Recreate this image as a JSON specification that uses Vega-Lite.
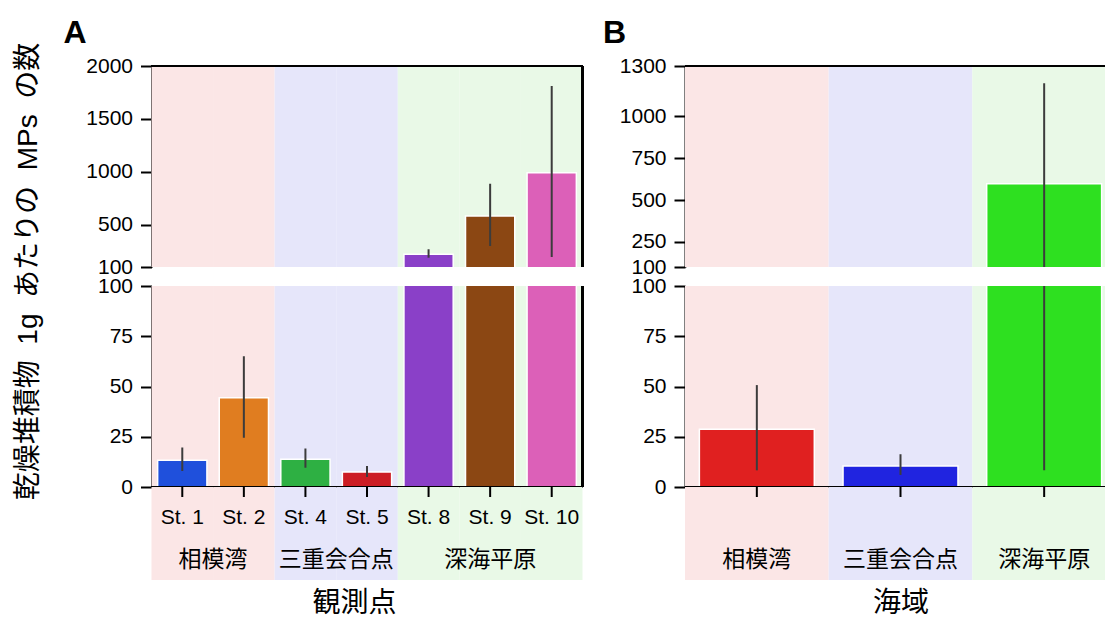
{
  "$schema": "https://vega.github.io/schema/vega-lite/v6.json",
  "padding": {"left": 13.5, "top": 17, "right": 0, "bottom": 0},
  "background": "white",
  "datasets": {
    "stations": [
      {"station": "St. 1", "region": "相模湾", "mean": 13.3, "lo": 8.0, "hi": 19.6},
      {"station": "St. 2", "region": "相模湾", "mean": 44.4, "lo": 24.5, "hi": 65.0},
      {"station": "St. 4", "region": "三重会合点", "mean": 13.8, "lo": 9.6, "hi": 19.2},
      {"station": "St. 5", "region": "三重会合点", "mean": 7.5, "lo": 5.0, "hi": 10.4},
      {"station": "St. 8", "region": "深海平原", "mean": 220, "lo": 188, "hi": 267},
      {"station": "St. 9", "region": "深海平原", "mean": 582, "lo": 298, "hi": 887},
      {"station": "St. 10", "region": "深海平原", "mean": 991, "lo": 194, "hi": 1811}
    ],
    "regions": [
      {"region": "相模湾", "mean": 28.7, "lo": 8.3, "hi": 50.7},
      {"region": "三重会合点", "mean": 10.4, "lo": 6.0, "hi": 16.3},
      {"region": "深海平原", "mean": 597, "lo": 8.3, "hi": 1197}
    ]
  },
  "config": {
    "view": {"stroke": null},
    "axis": {
      "grid": false, "zindex": 1, "format": "d",
      "labelFont": "Liberation Sans", "labelFontSize": 21, "labelColor": "black",
      "domainColor": "black", "domainWidth": 2,
      "tickColor": "black", "tickWidth": 2, "tickSize": 11, "labelPadding": 8,
      "titleFont": "Liberation Sans, Noto Sans CJK JP", "titleFontWeight": "normal", "titleColor": "black", "titleFontSize": 28
    },
    "text": {"color": "black"}
  },
  "spacing": 19.5,
  "resolve": {"scale": {"x": "independent", "y": "independent", "color": "independent", "fill": "independent"}},
  "hconcat": [
    {
      "bounds": "flush",
      "spacing": 19,
      "resolve": {"scale": {"x": "independent", "y": "independent", "color": "independent", "fill": "independent"}},
      "vconcat": [
        {
          "width": 431, "height": 201,
          "data": {"name": "stations"},
          "title": {"text": "A", "anchor": "start", "frame": "group", "dx": -88, "offset": -20, "baseline": "alphabetic", "font": "Liberation Sans", "fontSize": 32, "fontWeight": "bold", "color": "black"},
          "layer": [
            {"mark": {"type": "rect"},
             "encoding": {
               "x": {"field": "station", "type": "nominal", "scale": {"domain": ["St. 1", "St. 2", "St. 4", "St. 5", "St. 8", "St. 9", "St. 10"], "paddingInner": 0, "paddingOuter": 0}, "axis": null},
               "fill": {"field": "region", "type": "nominal", "scale": {"domain": ["相模湾", "三重会合点", "深海平原"], "range": ["#fbe6e6", "#e6e6fa", "#e9f9e7"]}, "legend": null}}},
            {"mark": {"type": "bar", "clip": true, "width": {"band": 0.8}, "stroke": "white", "strokeWidth": 1.5},
             "encoding": {
               "x": {"field": "station", "type": "nominal", "scale": {"domain": ["St. 1", "St. 2", "St. 4", "St. 5", "St. 8", "St. 9", "St. 10"], "paddingInner": 0, "paddingOuter": 0}, "axis": null},
               "y": {"field": "mean", "type": "quantitative", "scale": {"domain": [100, 2000], "nice": false, "zero": false}, "axis": {"values": [100, 500, 1000, 1500, 2000], "title": null}},
               "color": {"field": "station", "type": "nominal", "scale": {"domain": ["St. 1", "St. 2", "St. 4", "St. 5", "St. 8", "St. 9", "St. 10"], "range": ["#1f50dc", "#e07d20", "#2eb043", "#cc1d24", "#8a40c8", "#8b4713", "#dc60b8"]}, "legend": null}}},
            {"mark": {"type": "rule", "clip": true, "color": "#3c3c3c", "strokeWidth": 2},
             "encoding": {
               "x": {"field": "station", "type": "nominal", "scale": {"domain": ["St. 1", "St. 2", "St. 4", "St. 5", "St. 8", "St. 9", "St. 10"], "paddingInner": 0, "paddingOuter": 0}, "axis": null},
               "y": {"field": "lo", "type": "quantitative", "scale": {"domain": [100, 2000], "nice": false, "zero": false}, "axis": {"values": [100, 500, 1000, 1500, 2000], "title": null}},
               "y2": {"field": "hi"}}},
            {"mark": {"type": "rule", "color": "black", "strokeWidth": 2},
             "encoding": {"y": {"datum": 2000, "type": "quantitative", "scale": {"domain": [100, 2000], "nice": false, "zero": false}, "axis": {"values": [100, 500, 1000, 1500, 2000], "title": null}}}},
            {"mark": {"type": "rule", "color": "black", "strokeWidth": 2},
             "encoding": {"x": {"datum": "St. 10", "bandPosition": 1, "type": "nominal", "scale": {"domain": ["St. 1", "St. 2", "St. 4", "St. 5", "St. 8", "St. 9", "St. 10"], "paddingInner": 0, "paddingOuter": 0}, "axis": null}}}
          ]
        },
        {
          "bounds": "flush",
          "spacing": 0,
          "resolve": {"scale": {"x": "independent", "y": "independent", "color": "independent", "fill": "independent"}},
          "vconcat": [
            {
              "width": 431, "height": 201,
              "data": {"name": "stations"},
              "layer": [
                {"mark": {"type": "rect"},
                 "encoding": {
                   "x": {"field": "station", "type": "nominal", "scale": {"domain": ["St. 1", "St. 2", "St. 4", "St. 5", "St. 8", "St. 9", "St. 10"], "paddingInner": 0, "paddingOuter": 0}, "axis": null},
                   "fill": {"field": "region", "type": "nominal", "scale": {"domain": ["相模湾", "三重会合点", "深海平原"], "range": ["#fbe6e6", "#e6e6fa", "#e9f9e7"]}, "legend": null}}},
                {"mark": {"type": "bar", "clip": true, "width": {"band": 0.8}, "stroke": "white", "strokeWidth": 1.5},
                 "encoding": {
                   "x": {"field": "station", "type": "nominal", "scale": {"domain": ["St. 1", "St. 2", "St. 4", "St. 5", "St. 8", "St. 9", "St. 10"], "paddingInner": 0, "paddingOuter": 0}, "axis": null},
                   "y": {"field": "mean", "type": "quantitative", "scale": {"domain": [0, 100], "nice": false}, "axis": {"values": [0, 25, 50, 75, 100], "title": "乾燥堆積物\u00a0\u00a01g\u00a0\u00a0あたりの\u00a0\u00a0MPs\u00a0\u00a0の数", "titleFontSize": 28, "titleX": -123.5, "titleY": -15, "titleAngle": 270, "titleAlign": "center", "titleBaseline": "middle"}},
                   "color": {"field": "station", "type": "nominal", "scale": {"domain": ["St. 1", "St. 2", "St. 4", "St. 5", "St. 8", "St. 9", "St. 10"], "range": ["#1f50dc", "#e07d20", "#2eb043", "#cc1d24", "#8a40c8", "#8b4713", "#dc60b8"]}, "legend": null}}},
                {"mark": {"type": "rule", "clip": true, "color": "#3c3c3c", "strokeWidth": 2},
                 "encoding": {
                   "x": {"field": "station", "type": "nominal", "scale": {"domain": ["St. 1", "St. 2", "St. 4", "St. 5", "St. 8", "St. 9", "St. 10"], "paddingInner": 0, "paddingOuter": 0}, "axis": null},
                   "y": {"field": "lo", "type": "quantitative", "scale": {"domain": [0, 100], "nice": false}, "axis": {"values": [0, 25, 50, 75, 100], "title": "乾燥堆積物\u00a0\u00a01g\u00a0\u00a0あたりの\u00a0\u00a0MPs\u00a0\u00a0の数", "titleFontSize": 28, "titleX": -123.5, "titleY": -15, "titleAngle": 270, "titleAlign": "center", "titleBaseline": "middle"}},
                   "y2": {"field": "hi"}}},
                {"mark": {"type": "rule", "color": "black", "strokeWidth": 2},
                 "encoding": {"y": {"datum": 0, "type": "quantitative", "scale": {"domain": [0, 100], "nice": false}, "axis": {"values": [0, 25, 50, 75, 100], "title": "乾燥堆積物\u00a0\u00a01g\u00a0\u00a0あたりの\u00a0\u00a0MPs\u00a0\u00a0の数", "titleFontSize": 28, "titleX": -123.5, "titleY": -15, "titleAngle": 270, "titleAlign": "center", "titleBaseline": "middle"}}}},
                {"mark": {"type": "rule", "color": "black", "strokeWidth": 2},
                 "encoding": {"x": {"datum": "St. 10", "bandPosition": 1, "type": "nominal", "scale": {"domain": ["St. 1", "St. 2", "St. 4", "St. 5", "St. 8", "St. 9", "St. 10"], "paddingInner": 0, "paddingOuter": 0}, "axis": null}}}
              ]
            },
            {
              "width": 431, "height": 10,
              "data": {"name": "stations"},
              "layer": [
                {"mark": {"type": "rect"},
                 "encoding": {
                   "x": {"field": "station", "type": "nominal", "scale": {"domain": ["St. 1", "St. 2", "St. 4", "St. 5", "St. 8", "St. 9", "St. 10"], "paddingInner": 0, "paddingOuter": 0}, "axis": null},
                   "fill": {"field": "region", "type": "nominal", "scale": {"domain": ["相模湾", "三重会合点", "深海平原"], "range": ["#fbe6e6", "#e6e6fa", "#e9f9e7"]}, "legend": null}}},
                {"mark": {"type": "rule", "color": "black", "strokeWidth": 2},
                 "encoding": {
                   "x": {"field": "station", "type": "nominal", "scale": {"domain": ["St. 1", "St. 2", "St. 4", "St. 5", "St. 8", "St. 9", "St. 10"], "paddingInner": 0, "paddingOuter": 0}, "axis": null}}}
              ]
            },
            {
              "width": 431, "height": 42,
              "data": {"name": "stations"},
              "layer": [
                {"mark": {"type": "rect"},
                 "encoding": {
                   "x": {"field": "station", "type": "nominal", "scale": {"domain": ["St. 1", "St. 2", "St. 4", "St. 5", "St. 8", "St. 9", "St. 10"], "paddingInner": 0, "paddingOuter": 0}, "axis": null},
                   "fill": {"field": "region", "type": "nominal", "scale": {"domain": ["相模湾", "三重会合点", "深海平原"], "range": ["#fbe6e6", "#e6e6fa", "#e9f9e7"]}, "legend": null}}},
                {"mark": {"type": "text", "font": "Liberation Sans", "fontSize": 21},
                 "encoding": {
                   "x": {"field": "station", "type": "nominal", "scale": {"domain": ["St. 1", "St. 2", "St. 4", "St. 5", "St. 8", "St. 9", "St. 10"], "paddingInner": 0, "paddingOuter": 0}, "axis": null},
                   "text": {"field": "station"}}}
              ]
            },
            {
              "width": 431, "height": 41,
              "data": {"name": "stations"},
              "resolve": {"scale": {"x": "independent"}},
              "layer": [
                {"mark": {"type": "rect"},
                 "encoding": {
                   "x": {"field": "station", "type": "nominal", "scale": {"domain": ["St. 1", "St. 2", "St. 4", "St. 5", "St. 8", "St. 9", "St. 10"], "paddingInner": 0, "paddingOuter": 0}, "axis": {"labels": false, "ticks": false, "domain": false, "title": "観測点", "titlePadding": 9, "titleX": 202.5}},
                   "fill": {"field": "region", "type": "nominal", "scale": {"domain": ["相模湾", "三重会合点", "深海平原"], "range": ["#fbe6e6", "#e6e6fa", "#e9f9e7"]}, "legend": null}}},
                {"transform": [
                   {"window": [{"op": "row_number", "as": "idx"}]},
                   {"aggregate": [{"op": "mean", "field": "idx", "as": "pos"}], "groupby": ["region"]}
                 ],
                 "mark": {"type": "text", "font": "Noto Sans CJK JP", "fontSize": 23},
                 "encoding": {
                   "x": {"field": "pos", "type": "quantitative", "scale": {"domain": [0.5, 7.5], "nice": false, "zero": false}, "axis": null},
                   "text": {"field": "region"}}}
              ]
            }
          ]
        }
      ]
    },
    {
      "bounds": "flush",
      "spacing": 19,
      "resolve": {"scale": {"x": "independent", "y": "independent", "color": "independent", "fill": "independent"}},
      "vconcat": [
        {
          "width": 420, "height": 201,
          "data": {"name": "regions"},
          "title": {"text": "B", "anchor": "start", "frame": "group", "dx": -82, "offset": -20, "baseline": "alphabetic", "font": "Liberation Sans", "fontSize": 32, "fontWeight": "bold", "color": "black"},
          "layer": [
            {"mark": {"type": "rect", "clip": true},
             "encoding": {
               "x": {"field": "region", "type": "nominal", "scale": {"domain": ["相模湾", "三重会合点", "深海平原"], "range": [0, 431], "paddingInner": 0, "paddingOuter": 0}, "axis": null},
               "fill": {"field": "region", "type": "nominal", "scale": {"domain": ["相模湾", "三重会合点", "深海平原"], "range": ["#fbe6e6", "#e6e6fa", "#e9f9e7"]}, "legend": null}}},
            {"mark": {"type": "bar", "clip": true, "width": {"band": 0.8}, "stroke": "white", "strokeWidth": 1.5},
             "encoding": {
               "x": {"field": "region", "type": "nominal", "scale": {"domain": ["相模湾", "三重会合点", "深海平原"], "range": [0, 431], "paddingInner": 0, "paddingOuter": 0}, "axis": null},
               "y": {"field": "mean", "type": "quantitative", "scale": {"domain": [100, 1300], "nice": false, "zero": false}, "axis": {"values": [100, 250, 500, 750, 1000, 1300], "title": null}},
               "color": {"field": "region", "type": "nominal", "scale": {"domain": ["相模湾", "三重会合点", "深海平原"], "range": ["#e02020", "#2024e0", "#2ee020"]}, "legend": null}}},
            {"mark": {"type": "rule", "clip": true, "color": "#3c3c3c", "strokeWidth": 2},
             "encoding": {
               "x": {"field": "region", "type": "nominal", "scale": {"domain": ["相模湾", "三重会合点", "深海平原"], "range": [0, 431], "paddingInner": 0, "paddingOuter": 0}, "axis": null},
               "y": {"field": "lo", "type": "quantitative", "scale": {"domain": [100, 1300], "nice": false, "zero": false}, "axis": {"values": [100, 250, 500, 750, 1000, 1300], "title": null}},
               "y2": {"field": "hi"}}},
            {"mark": {"type": "rule", "color": "black", "strokeWidth": 2},
             "encoding": {"y": {"datum": 1300, "type": "quantitative", "scale": {"domain": [100, 1300], "nice": false, "zero": false}, "axis": {"values": [100, 250, 500, 750, 1000, 1300], "title": null}}}}
          ]
        },
        {
          "bounds": "flush",
          "spacing": 0,
          "resolve": {"scale": {"x": "independent", "y": "independent", "color": "independent", "fill": "independent"}},
          "vconcat": [
            {
              "width": 420, "height": 201,
              "data": {"name": "regions"},
              "layer": [
                {"mark": {"type": "rect", "clip": true},
                 "encoding": {
                   "x": {"field": "region", "type": "nominal", "scale": {"domain": ["相模湾", "三重会合点", "深海平原"], "range": [0, 431], "paddingInner": 0, "paddingOuter": 0}, "axis": null},
                   "fill": {"field": "region", "type": "nominal", "scale": {"domain": ["相模湾", "三重会合点", "深海平原"], "range": ["#fbe6e6", "#e6e6fa", "#e9f9e7"]}, "legend": null}}},
                {"mark": {"type": "bar", "clip": true, "width": {"band": 0.8}, "stroke": "white", "strokeWidth": 1.5},
                 "encoding": {
                   "x": {"field": "region", "type": "nominal", "scale": {"domain": ["相模湾", "三重会合点", "深海平原"], "range": [0, 431], "paddingInner": 0, "paddingOuter": 0}, "axis": null},
                   "y": {"field": "mean", "type": "quantitative", "scale": {"domain": [0, 100], "nice": false}, "axis": {"values": [0, 25, 50, 75, 100], "title": null}},
                   "color": {"field": "region", "type": "nominal", "scale": {"domain": ["相模湾", "三重会合点", "深海平原"], "range": ["#e02020", "#2024e0", "#2ee020"]}, "legend": null}}},
                {"mark": {"type": "rule", "clip": true, "color": "#3c3c3c", "strokeWidth": 2},
                 "encoding": {
                   "x": {"field": "region", "type": "nominal", "scale": {"domain": ["相模湾", "三重会合点", "深海平原"], "range": [0, 431], "paddingInner": 0, "paddingOuter": 0}, "axis": null},
                   "y": {"field": "lo", "type": "quantitative", "scale": {"domain": [0, 100], "nice": false}, "axis": {"values": [0, 25, 50, 75, 100], "title": null}},
                   "y2": {"field": "hi"}}},
                {"mark": {"type": "rule", "color": "black", "strokeWidth": 2},
                 "encoding": {"y": {"datum": 0, "type": "quantitative", "scale": {"domain": [0, 100], "nice": false}, "axis": {"values": [0, 25, 50, 75, 100], "title": null}}}}
              ]
            },
            {
              "width": 420, "height": 10,
              "data": {"name": "regions"},
              "layer": [
                {"mark": {"type": "rect", "clip": true},
                 "encoding": {
                   "x": {"field": "region", "type": "nominal", "scale": {"domain": ["相模湾", "三重会合点", "深海平原"], "range": [0, 431], "paddingInner": 0, "paddingOuter": 0}, "axis": null},
                   "fill": {"field": "region", "type": "nominal", "scale": {"domain": ["相模湾", "三重会合点", "深海平原"], "range": ["#fbe6e6", "#e6e6fa", "#e9f9e7"]}, "legend": null}}},
                {"mark": {"type": "rule", "color": "black", "strokeWidth": 2},
                 "encoding": {
                   "x": {"field": "region", "type": "nominal", "scale": {"domain": ["相模湾", "三重会合点", "深海平原"], "range": [0, 431], "paddingInner": 0, "paddingOuter": 0}, "axis": null}}}
              ]
            },
            {
              "width": 420, "height": 42,
              "data": {"name": "regions"},
              "layer": [
                {"mark": {"type": "rect", "clip": true},
                 "encoding": {
                   "x": {"field": "region", "type": "nominal", "scale": {"domain": ["相模湾", "三重会合点", "深海平原"], "range": [0, 431], "paddingInner": 0, "paddingOuter": 0}, "axis": null},
                   "fill": {"field": "region", "type": "nominal", "scale": {"domain": ["相模湾", "三重会合点", "深海平原"], "range": ["#fbe6e6", "#e6e6fa", "#e9f9e7"]}, "legend": null}}}
              ]
            },
            {
              "width": 420, "height": 41,
              "data": {"name": "regions"},
              "layer": [
                {"mark": {"type": "rect", "clip": true},
                 "encoding": {
                   "x": {"field": "region", "type": "nominal", "scale": {"domain": ["相模湾", "三重会合点", "深海平原"], "range": [0, 431], "paddingInner": 0, "paddingOuter": 0}, "axis": {"labels": false, "ticks": false, "domain": false, "title": "海域", "titlePadding": 9, "titleX": 215.5}},
                   "fill": {"field": "region", "type": "nominal", "scale": {"domain": ["相模湾", "三重会合点", "深海平原"], "range": ["#fbe6e6", "#e6e6fa", "#e9f9e7"]}, "legend": null}}},
                {"mark": {"type": "text", "font": "Noto Sans CJK JP", "fontSize": 23},
                 "encoding": {
                   "x": {"field": "region", "type": "nominal", "scale": {"domain": ["相模湾", "三重会合点", "深海平原"], "range": [0, 431], "paddingInner": 0, "paddingOuter": 0}, "axis": {"labels": false, "ticks": false, "domain": false, "title": "海域", "titlePadding": 9, "titleX": 215.5}},
                   "text": {"field": "region"}}}
              ]
            }
          ]
        }
      ]
    }
  ]
}
